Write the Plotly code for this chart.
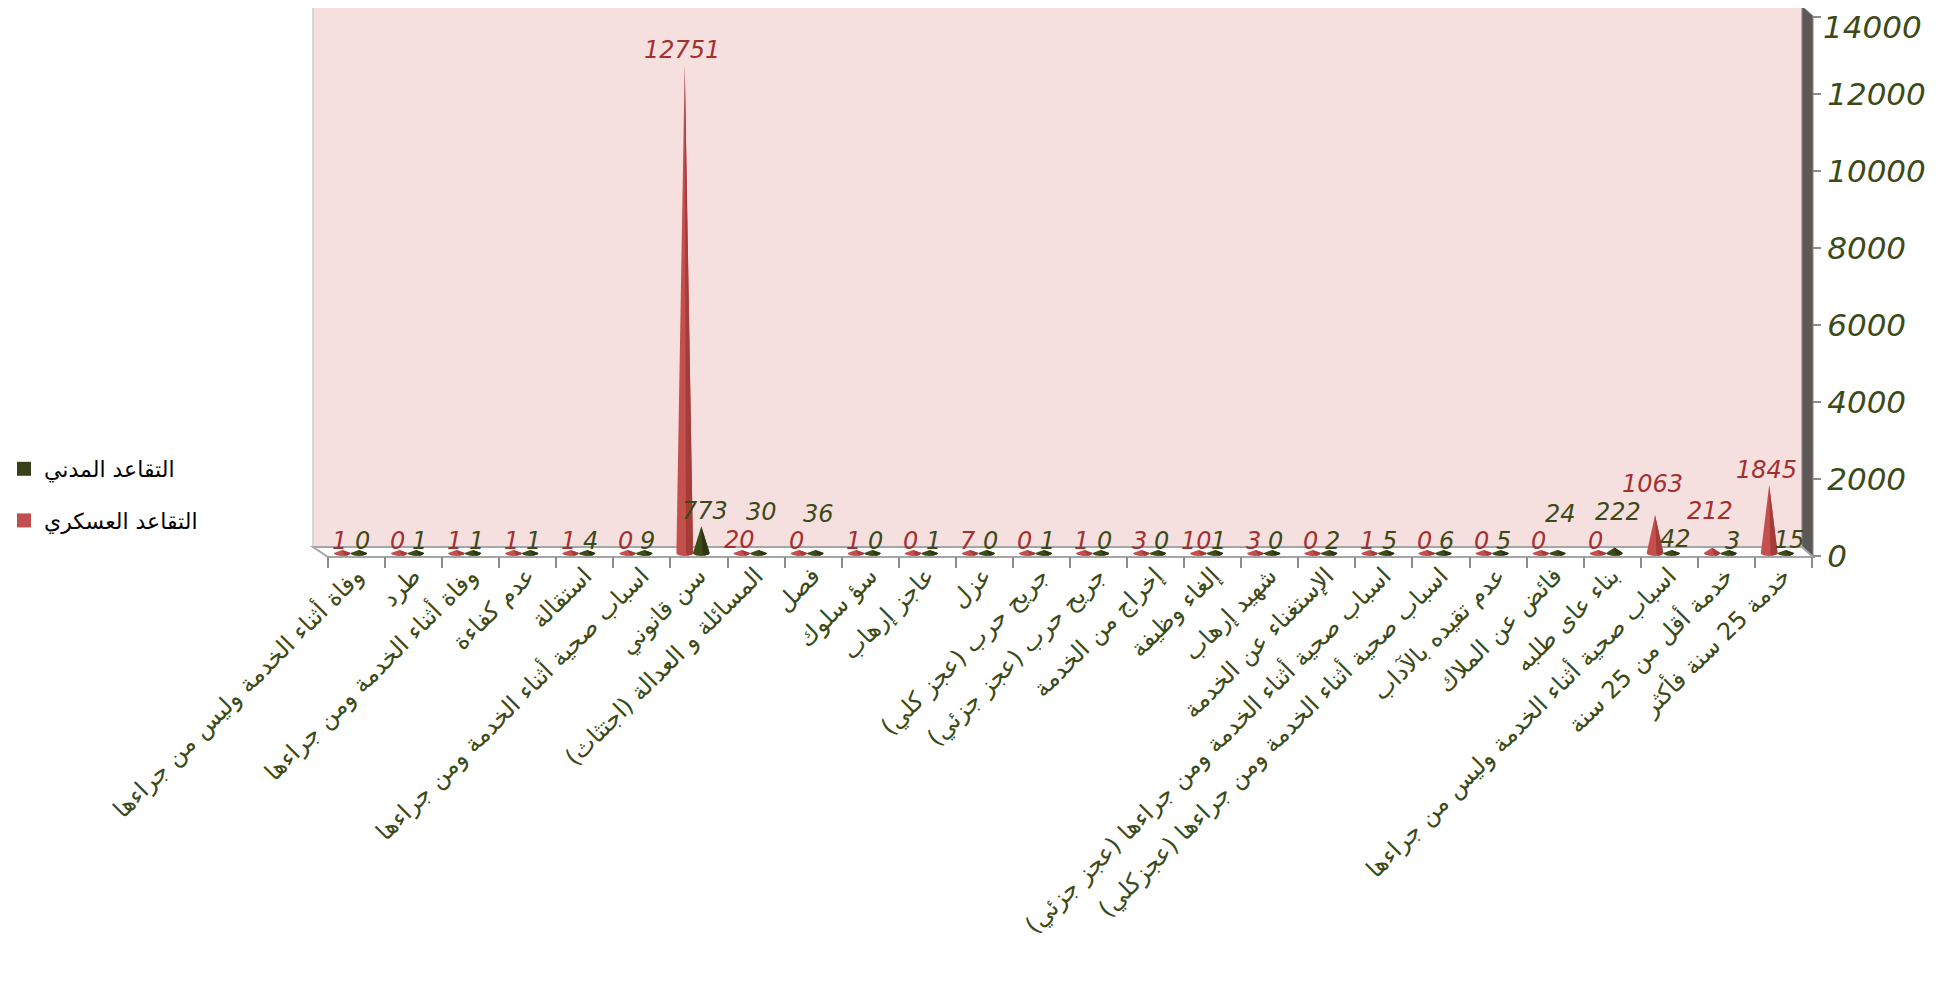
import math
import plotly.graph_objects as go

# ---------------- data ----------------
categories = [
    "وفاة أثناء الخدمة وليس من جراءها",
    "طرد",
    "وفاة أثناء الخدمة ومن جراءها",
    "عدم كفاءة",
    "استقالة",
    "اسباب صحية أثناء الخدمة ومن جراءها",
    "سن قانوني",
    "المسائلة و العدالة (اجتثاث)",
    "فصل",
    "سؤ سلوك",
    "عاجز إرهاب",
    "عزل",
    "جريح حرب (عجز كلي)",
    "جريح حرب (عجز جزئي)",
    "إخراج من الخدمة",
    "إلغاء وظيفة",
    "شهيد إرهاب",
    "الإستغناء عن الخدمة",
    "اسباب صحية أثناء الخدمة ومن جراءها (عجز جزئي)",
    "اسباب صحية أثناء الخدمة ومن جراءها (عجزكلي)",
    "عدم تقيده بالآداب",
    "فائض عن الملاك",
    "بناء عاى طلبه",
    "اسباب صحية أثناء الخدمة وليس من جراءها",
    "خدمة أقل من 25 سنة",
    "خدمة 25 سنة فأكثر",
]
military = [1, 0, 1, 1, 1, 0, 12751, 20, 0, 1, 0, 7, 0, 1, 3, 10, 3, 0, 1, 0, 0, 0, 0, 1063, 212, 1845]
civil = [0, 1, 1, 1, 4, 9, 773, 30, 36, 0, 1, 0, 1, 0, 0, 1, 0, 2, 5, 6, 5, 24, 222, 42, 3, 15]
name_civil = "التقاعد المدني"
name_military = "التقاعد العسكري"
y_ticks = [0, 2000, 4000, 6000, 8000, 10000, 12000, 14000]

# ---------------- layout geometry (page pixels; the page body has an 8px margin) ----------------
W, H = 1946, 983
OFF = 8
PAGE_L, PAGE_R, PAGE_T, PAGE_B = 328, 1812, 17, 556
L = PAGE_L - OFF
T = PAGE_T - OFF
R = W - (PAGE_R - OFF)
B = H - (PAGE_B - OFF)
PW, PH = PAGE_R - PAGE_L, PAGE_B - PAGE_T
N = len(categories)

RED = "#c4504e"
RED_DARK = "#a63c3a"
GREEN = "#3e4c1a"
GREEN_DARK = "#2c3711"
RED_TXT = "#a3302f"
GREEN_TXT = "#3b4a17"
RLM = "\u200f"
YFS = 31
YTICKLEN = 8


def px(x):
    return (x - PAGE_L) / PW


def py(y):
    return (PAGE_B - y) / PH


units_per_px = 14000 / PH
half_w = 0.146
base = 3 * units_per_px
ell = 3 * units_per_px


def cone_polys(values, offset):
    xs_l, ys_l, xs_r, ys_r = [], [], [], []
    n = 10
    for i, v in enumerate(values):
        cx = i + offset
        top = max(v, base + ell)
        pts = [(cx - half_w, base), (cx, top), (cx + half_w, base)]
        for k in range(1, n):
            a = math.pi * k / n
            pts.append((cx + half_w * math.cos(a), base - ell * math.sin(a)))
        for p in pts:
            xs_l.append(p[0]); ys_l.append(p[1])
        xs_l.append(None); ys_l.append(None)
        pts2 = [(cx + half_w * 0.15, base), (cx, top), (cx + half_w, base)]
        for k in range(1, n // 2):
            a = math.pi * k / n
            pts2.append((cx + half_w * math.cos(a), base - ell * math.sin(a)))
        for p in pts2:
            xs_r.append(p[0]); ys_r.append(p[1])
        xs_r.append(None); ys_r.append(None)
    return xs_l, ys_l, xs_r, ys_r


fig = go.Figure()

OFF_RED = -0.25
OFF_GREEN = 0.04

for vals, off, col, dcol in [(military, OFF_RED, RED, RED_DARK), (civil, OFF_GREEN, GREEN, GREEN_DARK)]:
    xl, yl, xr, yr = cone_polys(vals, off)
    fig.add_trace(go.Scatter(x=xl, y=yl, mode="lines", fill="toself", fillcolor=col,
                             line=dict(width=0, color=col), showlegend=False, hoverinfo="skip"))
    fig.add_trace(go.Scatter(x=xr, y=yr, mode="lines", fill="toself", fillcolor=dcol,
                             line=dict(width=0, color=dcol), showlegend=False, hoverinfo="skip"))

# legend entries
fig.add_trace(go.Scatter(x=[None], y=[None], mode="markers", name=name_civil + RLM,
                         marker=dict(symbol="square", size=14, color="#374218"),
                         legendgroup="a"))
fig.add_trace(go.Scatter(x=[None], y=[None], mode="markers", name=name_military + RLM,
                         marker=dict(symbol="square", size=14, color="#c0504d"),
                         legendgroup="b"))

# ---------------- data labels with simple collision avoidance ----------------
FS = 24
BOX_H = 1.12 * FS
LBL_RED_X = -0.29
LBL_GREEN_X = 0.10
GAP = 4


def text_w(s):
    return sum((0.45 if ch == "1" else 0.6) * FS for ch in s)


items = []
for i, v in enumerate(military):
    items.append(dict(x=i + LBL_RED_X, v=v, s=str(v), rank=0, color=RED_TXT))
for i, v in enumerate(civil):
    items.append(dict(x=i + LBL_GREEN_X, v=v, s=str(v), rank=1, color=GREEN_TXT))


def box(it, shift):
    cx = PAGE_L + (it["x"] + 0.5) * PW / N
    bottom = PAGE_B - it["v"] / units_per_px - shift
    w = text_w(it["s"])
    return (cx - w / 2, cx + w / 2, bottom - BOX_H, bottom)


def hit(a, b):
    return not (a[1] + GAP <= b[0] or b[1] + GAP <= a[0] or a[3] <= b[2] or b[3] <= a[2])


placed = []
annotations = []
for it in sorted(items, key=lambda d: (len(d["s"]), d["rank"])):
    shift = 0
    while any(hit(box(it, shift), p) for p in placed):
        shift += 2
    placed.append(box(it, shift))
    annotations.append(dict(x=it["x"], y=it["v"], xref="x", yref="y", text=it["s"], showarrow=False,
                            yanchor="bottom", yshift=shift, borderpad=0,
                            font=dict(family="DejaVu Sans", size=FS, color=it["color"], style="italic")))

# the top y tick label is written as an annotation so that it stays inside the page
annotations.append(dict(x=1, y=py(OFF), xref="paper", yref="paper", text=str(y_ticks[-1]),
                        showarrow=False, xanchor="left", yanchor="top", xshift=YTICKLEN + 2,
                        borderpad=0,
                        font=dict(family="DejaVu Sans", size=YFS, color=GREEN_TXT, style="italic")))

shapes = [
    dict(type="rect", xref="paper", yref="paper", x0=px(313), x1=px(1802), y0=py(547), y1=py(6),
         fillcolor="#f6dfdf", line=dict(color="#d6d6d6", width=2), layer="below"),
    dict(type="path", xref="paper", yref="paper",
         path=f"M {px(1802)},{py(6)} L {px(1813)},{py(16)} L {px(1813)},{py(557)} L {px(1802)},{py(547)} Z",
         fillcolor="#5c5856", line=dict(color="#8a8685", width=1), layer="below"),
    dict(type="path", xref="paper", yref="paper",
         path=f"M {px(313)},{py(547)} L {px(1802)},{py(547)} L {px(1813)},{py(557)} L {px(328)},{py(557)} Z",
         fillcolor="#ffffff", line=dict(color="#a6a6a6", width=2), layer="below"),
]

fig.update_layout(
    width=W, height=H,
    margin=dict(l=L, r=R, t=T, b=B, autoexpand=False),
    paper_bgcolor="white", plot_bgcolor="rgba(0,0,0,0)",
    shapes=shapes,
    annotations=annotations,
    showlegend=True,
    legend=dict(x=px(4), y=py(448), xanchor="left", yanchor="top",
                font=dict(family="DejaVu Sans", size=22, color="black"),
                tracegroupgap=20, bgcolor="rgba(0,0,0,0)"),
    xaxis=dict(range=[-0.5, N - 0.5], tickmode="array",
               tickvals=list(range(N)),
               ticktext=[c + RLM for c in categories],
               tickangle=-45, ticks="", ticklen=0, showgrid=False, zeroline=False, showline=False,
               automargin=False,
               tickfont=dict(family="DejaVu Sans", size=24, color=GREEN_TXT),
               ticklabelstandoff=0,
               minor=dict(tickmode="array", tickvals=[k - 0.5 for k in range(N + 1)],
                          ticks="outside", ticklen=11, tickwidth=2, tickcolor="#8c8c8c", showgrid=False)),
    yaxis=dict(range=[0, 14000], side="right", tickmode="array", tickvals=y_ticks,
               ticktext=[str(v) for v in y_ticks[:-1]] + [""],
               ticks="outside", ticklen=YTICKLEN, tickwidth=2, tickcolor="#8c8c8c",
               showgrid=False, zeroline=False, showline=False, automargin=False,
               ticklabeloverflow="allow",
               tickfont=dict(family="DejaVu Sans", size=YFS, color=GREEN_TXT, style="italic"),
               ticklabelstandoff=0),
)

fig.write_html("out.html")
